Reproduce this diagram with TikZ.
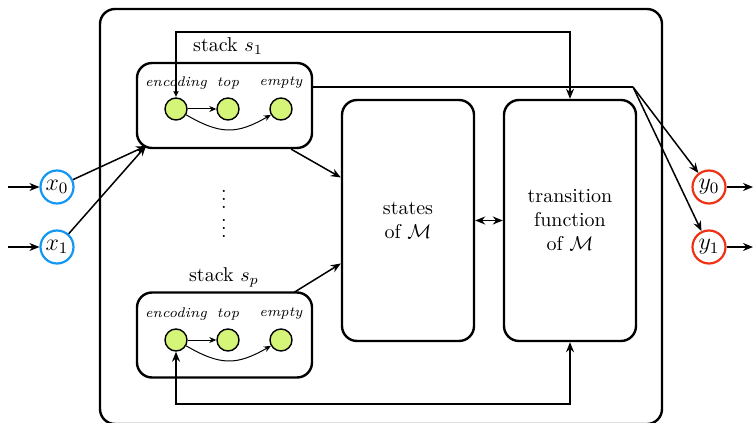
\documentclass[tikz,border=0pt]{standalone}
\usetikzlibrary{arrows.meta,calc}
\definecolor{cellgreen}{RGB}{212,245,120}
\definecolor{inblue}{RGB}{20,150,245}
\definecolor{outred}{RGB}{240,50,20}
\begin{document}
\begin{tikzpicture}[x=0.5pt,y=-0.5pt,
  bigbox/.style={draw, line width=1.2pt, rounded corners=7.5pt, inner sep=0pt, minimum width=281pt, minimum height=207.5pt},
  stackbox/.style={draw, line width=1.2pt, rounded corners=7.5pt, inner sep=0pt, minimum width=87.5pt, minimum height=42.5pt},
  machbox/.style={draw, line width=1.2pt, rounded corners=7.5pt, inner sep=0pt, minimum width=66pt, minimum height=120.5pt, align=center},
  cell/.style={circle, draw, line width=0.7pt, fill=cellgreen, minimum size=11pt, inner sep=0pt},
  cellname/.style={font=\scriptsize\itshape, inner sep=0pt},
  dotsnode/.style={inner sep=0pt},
  innode/.style={circle, draw=inblue, line width=1.1pt, minimum size=16.5pt, inner sep=0pt, font=\large},
  outnode/.style={circle, draw=outred, line width=1.1pt, minimum size=16.5pt, inner sep=0pt, font=\large},
  conn/.style={line width=0.75pt, -{Stealth[length=5pt,width=4pt]}},
  biconn/.style={line width=0.75pt, {Stealth[length=5pt,width=4pt]}-{Stealth[length=5pt,width=4pt]}},
  thinarrow/.style={line width=0.5pt, -{Stealth[length=3.5pt,width=3pt]}}
]
\useasboundingbox (0,0) rectangle (753,422);

% outer box
\node[bigbox] (outer) at (381,216.5) {};

% stacks
\node[stackbox] (s1) at (224.5,105.5) {};
\node[stackbox] (sp) at (224.5,335) {};
\node (s1lab) at (228,46) {stack $s_1$};
\node (splab) at (224,277) {stack $s_p$};

% cells of s1
\node[cell] (e1) at (176,109) {};
\node[cell] (t1) at (228,109) {};
\node[cell] (m1) at (281,109) {};
\node[cellname] (e1lab) at (176,83) {encoding};
\node[cellname] (t1lab) at (228,83) {top};
\node[cellname] (m1lab) at (281,83) {empty};
\draw[thinarrow] (e1) -- (t1);
\draw[thinarrow] (e1) to[out=-30,in=-150,looseness=1.2] (m1);

% cells of sp
\node[cell] (ep) at (176,340) {};
\node[cell] (tp) at (228,340) {};
\node[cell] (mp) at (281,340) {};
\node[cellname] (eplab) at (176,314) {encoding};
\node[cellname] (tplab) at (228,314) {top};
\node[cellname] (mplab) at (281,314) {empty};
\draw[thinarrow] (ep) -- (tp);
\draw[thinarrow] (ep) to[out=-30,in=-150,looseness=1.2] (mp);

% dots
\node[dotsnode] (dots1) at (224,193) {$\vdots$};
\node[dotsnode] (dots2) at (224,222) {$\vdots$};

% machine boxes
\node[machbox] (states) at (408,220.5) {states\\of $\mathcal{M}$};
\node[machbox] (trans) at (570,220.5) {transition\\function\\of $\mathcal{M}$};
\draw[biconn] (states) -- (trans);

% inputs
\node[innode] (x0) at (57,187) {$x_0$};
\node[innode] (x1) at (57,247) {$x_1$};
\coordinate (in0) at (8,187);
\coordinate (in1) at (8,247);
\coordinate (s1in) at (146,146);
\draw[conn] (in0) -- (x0);
\draw[conn] (in1) -- (x1);
\draw[conn] (x0) -- (s1in);
\draw[conn] (x1) -- (s1in);

% outputs
\node[outnode] (y0) at (709,187) {$y_0$};
\node[outnode] (y1) at (709,247) {$y_1$};
\coordinate (out0) at (753,187);
\coordinate (out1) at (753,247);
\draw[conn] (y0) -- (out0);
\draw[conn] (y1) -- (out1);

% stacks to states
\draw[conn] ($(s1.south east)+(-22,0)$) -- ($(states.west)+(0,-43)$);
\draw[conn] ($(sp.north east)+(-19,1)$) -- ($(states.west)+(0,43)$);

% s1 to outputs
\coordinate (split) at (633,87);
\draw[line width=0.75pt] (s1.east |- split) -- (split);
\draw[conn] (split) -- (y0);
\draw[conn] (split) -- (y1);

% top feedback loop
\coordinate (topy) at (0,32);
\draw[line width=0.75pt, {Latex[length=3pt,width=3pt]}-{Stealth[length=5pt,width=4pt]}]
  (e1.north) -- (e1.north |- topy) -| (trans.north);

% bottom feedback loop
\coordinate (boty) at (0,404);
\draw[biconn] (ep.south) -- (ep.south |- boty) -| (trans.south);
\end{tikzpicture}
\end{document}
